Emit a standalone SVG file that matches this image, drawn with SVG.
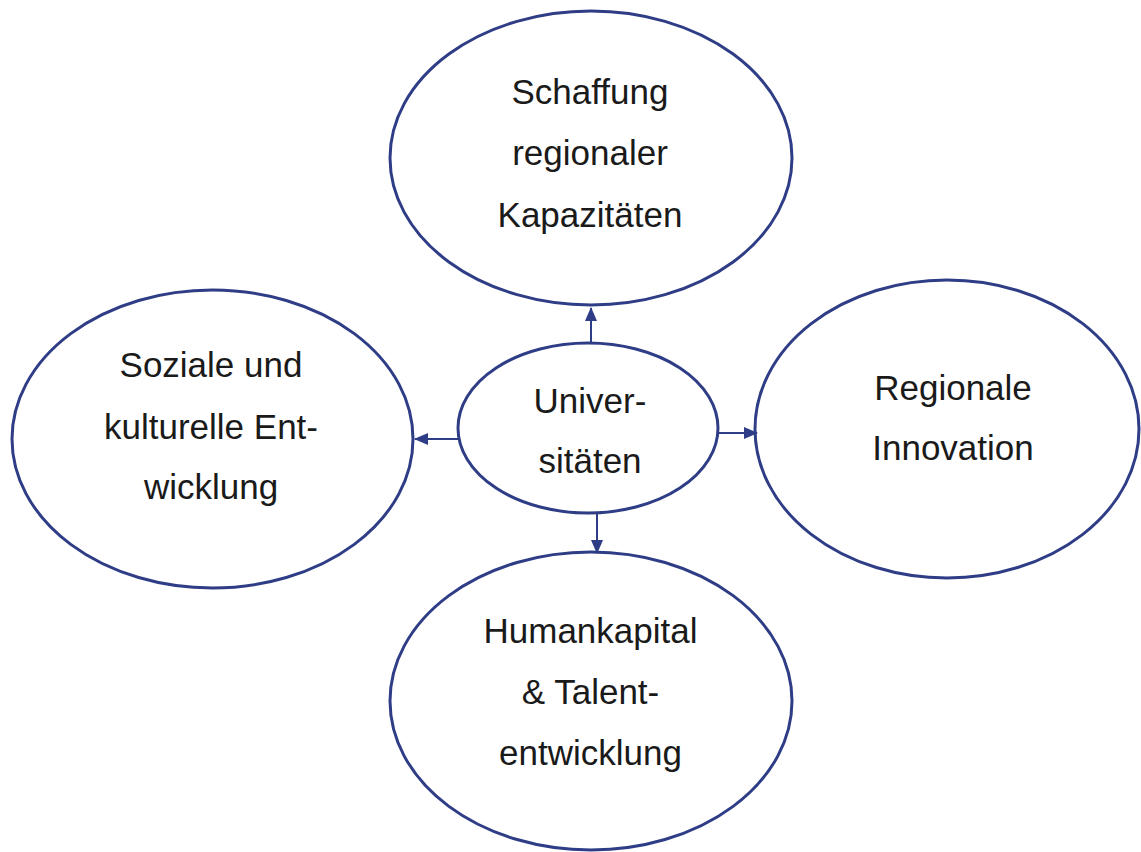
<svg xmlns="http://www.w3.org/2000/svg" width="1141" height="852" viewBox="0 0 1141 852">
<defs>
<style>
.node{fill:#fff;stroke:#2E3D86;stroke-width:3}
.lbl{font-family:"Liberation Sans",Arial,sans-serif;font-size:35px;fill:#1a1a1a;text-anchor:middle}
.con{stroke:#2E3D86;stroke-width:2;fill:none}
</style>
<marker id="ah" viewBox="0 0 14 12" refX="13" refY="6" markerWidth="14" markerHeight="12" markerUnits="userSpaceOnUse" orient="auto">
<path d="M0,0 L14,6 L0,12 Z" fill="#2E3D86"/>
</marker>
</defs>
<rect width="1141" height="852" fill="#fff"/>
<g id="top">
<ellipse class="node" cx="591" cy="158" rx="201" ry="147"/>
<text class="lbl" x="590" y="104">Schaffung</text>
<text class="lbl" x="590" y="165">regionaler</text>
<text class="lbl" x="590" y="227">Kapazitäten</text>
</g>
<g id="left">
<ellipse class="node" cx="212.5" cy="439" rx="200.5" ry="149"/>
<text class="lbl" x="211" y="377">Soziale und</text>
<text class="lbl" x="211" y="439">kulturelle Ent-</text>
<text class="lbl" x="211" y="499">wicklung</text>
</g>
<g id="right">
<ellipse class="node" cx="947" cy="429" rx="192" ry="149"/>
<text class="lbl" x="953" y="400">Regionale</text>
<text class="lbl" x="953" y="460">Innovation</text>
</g>
<g id="bottom">
<ellipse class="node" cx="591" cy="701" rx="201" ry="149"/>
<text class="lbl" x="590.5" y="643">Humankapital</text>
<text class="lbl" x="590.5" y="704">&amp; Talent-</text>
<text class="lbl" x="590.5" y="765">entwicklung</text>
</g>
<g id="center">
<ellipse class="node" cx="588" cy="428" rx="130" ry="85"/>
<text class="lbl" x="590" y="413">Univer-</text>
<text class="lbl" x="590" y="473">sitäten</text>
</g>
<g id="connectors">
<line class="con" x1="591" y1="343" x2="591" y2="308" marker-end="url(#ah)"/>
<line class="con" x1="458" y1="439" x2="415" y2="439" marker-end="url(#ah)"/>
<line class="con" x1="718" y1="433" x2="757" y2="433" marker-end="url(#ah)"/>
<line class="con" x1="597" y1="513" x2="597" y2="553" marker-end="url(#ah)"/>
</g>
</svg>
